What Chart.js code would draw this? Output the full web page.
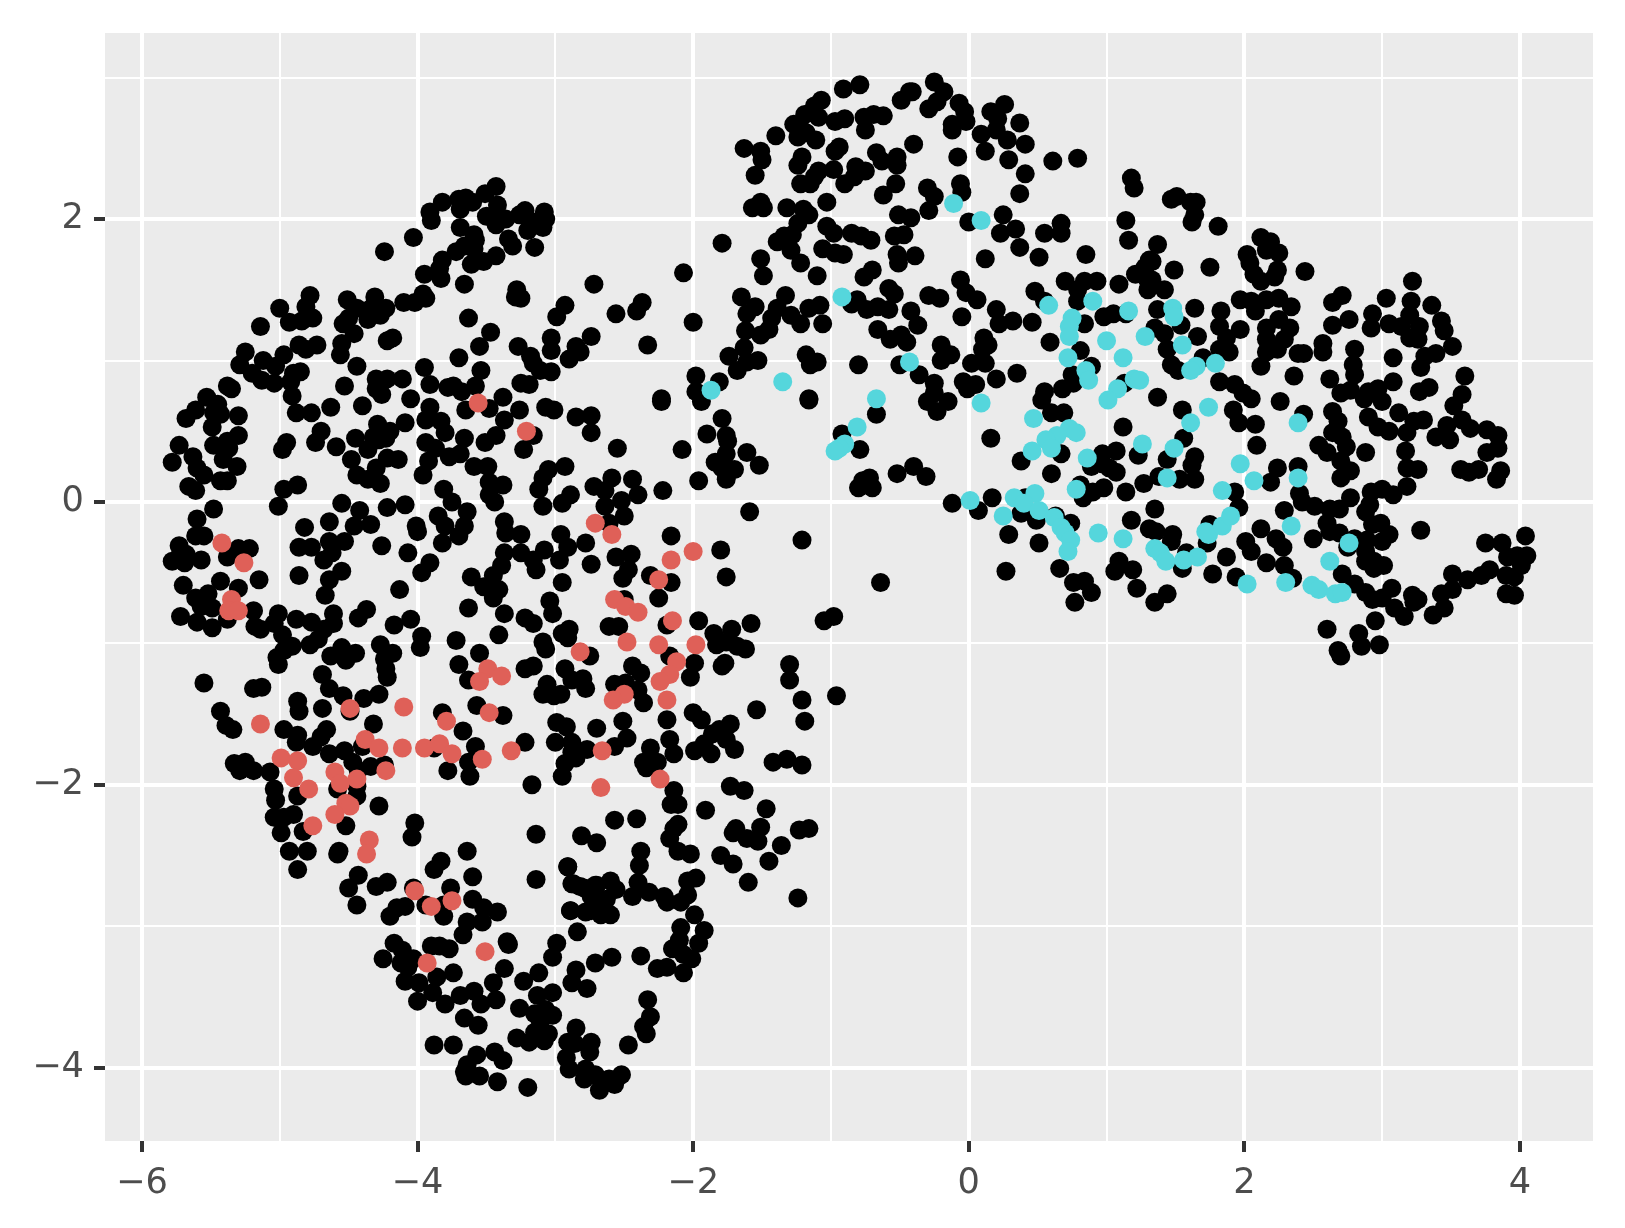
<!DOCTYPE html>
<html>
<head>
<meta charset="utf-8">
<script src="https://cdn.jsdelivr.net/npm/chart.js@4"></script>
<style>
  html, body { margin: 0; padding: 0; background: #fff; }
  canvas { display: block; }
</style>
</head>
<body>
<canvas id="chart" width="1625" height="1228"></canvas>
<script>
// values, [x, y]
const blackPoints = [
[-3.43,2.23],[-3.51,2.18],[-3.65,2.15],[-3.70,2.14],[-3.60,2.12],[-3.82,2.12],[-3.91,2.05],[-3.42,2.10],[-3.69,2.07],[-3.90,1.99],[-3.50,2.02],[-3.42,2.02],[-3.43,1.96],[-3.36,2.00],[-3.26,2.03],[-3.22,2.06],[-3.08,2.05],[-3.07,2.00],[-3.20,1.92],[-3.09,1.94],[-3.16,1.98],[-3.69,1.94],[-3.59,1.89],[-3.58,1.85],[-3.59,1.79],[-3.66,1.81],[-3.72,1.77],[-3.82,1.71],[-3.84,1.65],[-3.34,1.86],[-3.31,1.81],[-3.15,1.80],[-4.03,1.87],[-4.24,1.77],[-3.43,1.74],[-3.52,1.70],[-3.61,1.68],[-3.95,1.61],[-3.83,1.58],[-3.66,1.54],[-3.28,1.50],[-3.29,1.45],[-3.25,1.44],[-2.72,1.54],[-3.96,1.47],[-3.94,1.44],[-4.02,1.41],[-4.10,1.41],[-2.93,1.39],[-2.99,1.31],[-4.31,1.45],[-4.51,1.43],[-3.63,1.30],[-3.47,1.20],[-3.55,1.10],[-2.74,1.17],[-3.03,1.16],[-3.27,1.10],[-2.85,1.10],[-3.03,1.07],[-2.82,1.06],[-2.90,1.01],[-3.18,1.03],[-3.16,0.98],
[-4.78,1.46],[-4.81,1.38],[-5.00,1.37],[-4.76,1.30],[-4.84,1.28],[-4.93,1.27],[-5.14,1.24],[-4.23,1.37],[-4.27,1.32],[-4.36,1.29],[-4.44,1.37],[-4.50,1.30],[-4.54,1.26],[-4.46,1.19],[-4.55,1.12],[-4.56,1.04],[-4.35,1.36],[-4.18,1.16],[-4.22,1.14],[-4.86,1.11],[-4.73,1.11],[-4.81,1.08],[-5.25,1.06],[-4.97,1.04],[-5.12,1.00],[-5.29,0.97],[-3.70,1.02],[-4.44,0.96],[-3.95,0.95],[-3.54,0.93],[-3.03,0.92],[-3.11,0.93],[-4.85,0.92],[-4.90,0.91],[-5.03,0.96],[-5.20,0.91],[-5.13,0.86],[-5.04,0.84],[-4.92,0.85],[-4.30,0.87],[-4.22,0.87],[-4.11,0.87],[-4.53,0.82],[-4.30,0.80],[-4.26,0.76],[-3.91,0.83],[-3.78,0.81],[-3.74,0.82],[-3.68,0.78],[-3.58,0.82],[-3.25,0.84],[-3.19,0.83],[-4.91,0.75],[-5.38,0.82],[-5.35,0.80],[-5.53,0.74],[-5.45,0.69],[-5.61,0.65],[-5.68,0.59],[-5.48,0.63],[-5.43,0.62],[-5.30,0.61],[-5.49,0.53],[-4.05,0.73],[-4.63,0.67],[-4.88,0.63],[-4.77,0.63],[-4.40,0.68],[-3.65,0.65],[-3.48,0.66],[-3.38,0.74],[-3.26,0.65],[-3.37,0.58],[-3.07,0.67],[-3.01,0.65],[-2.85,0.60],[-2.74,0.61],[-2.74,0.49],[-3.91,0.67],[-3.94,0.58],[-3.83,0.57],[-3.80,0.49],[-4.09,0.56],[-4.29,0.55],[-4.20,0.50],[-4.32,0.46],[-4.23,0.45],[-4.45,0.45],[-4.70,0.50],[-4.74,0.42],[-4.95,0.42],[-4.98,0.37],[-4.59,0.39],[-3.66,0.45],[-3.43,0.47],[-3.51,0.42],[-3.16,0.47],[-3.23,0.37],[-5.73,0.40],[-5.30,0.47],[-5.38,0.43],[-5.48,0.40],[-5.37,0.38],[-3.94,0.42],[-3.87,0.38],[-4.36,0.37],[-4.28,0.44],[-4.48,0.30],[-3.69,0.34],[-3.77,0.32],[-3.59,0.25],[-3.49,0.25],[-3.92,0.29],[-4.22,0.31],[-4.14,0.30],[-4.30,0.24],[-5.41,0.30],[-5.31,0.25],[-5.63,0.32],[-5.78,0.28],[-5.60,0.24],[-5.55,0.19],[-3.96,0.19],[-4.44,0.19],[-4.36,0.16],[-4.27,0.13],[-3.48,0.14],[-3.38,0.12],[-3.48,0.05],[-3.44,0.00],[-3.05,0.23],[-2.93,0.25],[-3.09,0.17],[-3.12,0.09],[-3.81,0.09],[-3.75,0.00],[-2.72,0.11],[-2.89,0.05],[-2.95,-0.01],[-3.09,-0.03],[-4.87,0.12],[-4.97,0.09],[-5.43,0.15],[-5.38,0.15],[-5.66,0.11],[-5.61,0.08],[-5.01,-0.03],[-4.55,-0.01],[-4.22,-0.04],[-4.09,-0.02],[-4.42,-0.06],[-5.48,-0.05],[-5.60,-0.12],[-3.64,-0.07],[-3.85,-0.10],[-3.80,-0.17],[-3.66,-0.17],[-3.37,-0.14],[-3.36,-0.22],[-3.25,-0.23],[-2.96,-0.23],[-4.64,-0.14],[-4.34,-0.16],[-4.46,-0.17],[-4.82,-0.18],[-4.01,-0.17],[-4.00,-0.21],[-3.70,-0.24],[-5.55,-0.24],[-5.61,-0.24],
[-5.73,-0.31],[-4.86,-0.32],[-4.77,-0.32],[-4.64,-0.28],[-4.53,-0.28],[-3.82,-0.29],[-4.26,-0.31],[-5.30,-0.33],[-5.22,-0.33],[-5.38,-0.39],[-5.72,-0.37],[-5.68,-0.37],[-5.78,-0.42],[-5.69,-0.43],[-5.57,-0.41],[-4.07,-0.36],[-4.62,-0.36],[-4.68,-0.41],[-3.37,-0.36],[-3.25,-0.36],[-3.08,-0.34],[-2.91,-0.32],[-2.78,-0.29],[-3.16,-0.41],[-3.14,-0.48],[-2.97,-0.41],[-2.74,-0.44],[-3.39,-0.45],[-3.45,-0.52],[-3.91,-0.43],[-3.97,-0.50],[-4.55,-0.49],[-4.64,-0.55],[-4.86,-0.52],[-3.61,-0.53],[-5.43,-0.56],[-5.15,-0.55],[-5.70,-0.59],[-5.30,-0.61],[-3.52,-0.60],[-3.41,-0.62],[-2.95,-0.57],[-3.45,-0.68],[-4.13,-0.62],[-4.67,-0.66],[-5.52,-0.65],[-5.61,-0.68],[-5.57,-0.74],[-5.49,-0.75],[-3.04,-0.70],[-3.02,-0.79],[-3.63,-0.75],[-5.19,-0.77],[-3.37,-0.79],[-4.61,-0.79],[-4.37,-0.76],[-4.43,-0.82],[-5.72,-0.81],[-5.60,-0.85],[-5.49,-0.89],[-5.38,-0.83],[-5.01,-0.79],[-4.88,-0.83],[-5.04,-0.86],[-4.77,-0.85],[-4.61,-0.86],[-4.68,-0.90],[-4.05,-0.83],[-4.17,-0.87],[-5.18,-0.88],[-5.14,-0.90],[-3.22,-0.82],[-3.16,-0.86],[-3.97,-0.95],[-3.41,-0.94],[-2.90,-0.90],[-2.95,-0.93],[-2.91,-0.96],[-4.98,-0.94],[-4.72,-0.97],[-3.09,-0.99],[-3.07,-1.04],[-3.72,-0.98],[-3.98,-1.03],[-4.27,-1.01],[-4.18,-1.07],[-4.55,-1.03],[-4.45,-1.07],[-4.52,-1.12],[-4.63,-1.09],[-4.91,-1.02],[-4.97,-1.05],[-4.78,-1.01],[-5.02,-1.10],[-5.01,-1.15],[-3.55,-1.07],[-3.70,-1.15],[-4.24,-1.11],[-4.23,-1.18],[-4.22,-1.24],[-2.75,-1.09],[-3.16,-1.16],[-3.22,-1.18],[-2.93,-1.18],[-2.80,-1.25],[-2.88,-1.26],[-2.78,-1.32],[-4.69,-1.22],[-5.55,-1.28],[-5.13,-1.31],[-5.19,-1.32],[-3.63,-1.26],[-3.06,-1.29],[-3.09,-1.36],[-3.01,-1.37],[-2.96,-1.36],[-4.64,-1.32],[-4.54,-1.37],[-4.39,-1.39],[-4.28,-1.36],[-4.87,-1.41],[-4.86,-1.48],[-4.69,-1.46],[-4.49,-1.48],[-3.57,-1.44],[-3.38,-1.51],[-3.82,-1.49],[-2.99,-1.56],[-2.92,-1.59],[-5.43,-1.48],[-5.39,-1.58],[-5.34,-1.61],[-4.32,-1.57],[-2.70,-1.60],[-4.66,-1.61],[-4.70,-1.66],[-4.97,-1.61],[-4.87,-1.65],[-4.88,-1.70],[-3.67,-1.62],[-4.76,-1.73],[-3.22,-1.70],[-3.00,-1.70],[-2.88,-1.70],[-2.88,-1.77],[-2.77,-1.75],[-4.64,-1.78],[-4.53,-1.76],[-4.40,-1.73],[-3.58,-1.73],[-3.88,-1.74],[-4.47,-1.84],[-2.93,-1.85],[-2.85,-1.81],[-5.33,-1.85],[-5.25,-1.84],[-5.29,-1.90],[-5.19,-1.90],[-5.07,-1.91],[-4.24,-1.86],[-4.34,-1.87],[-4.43,-1.90],[-3.63,-1.84],[-3.78,-1.90],[-2.95,-1.94],[-3.62,-1.94],[-3.17,-2.00],[-5.04,-2.03],[-4.58,-2.03],[-4.44,-2.01],[-5.03,-2.11],[-4.87,-2.08],[-4.44,-2.08],[-4.28,-2.15],[-4.90,-2.21],[-5.04,-2.23],[-4.97,-2.23],[-4.52,-2.29],[-4.02,-2.27],[-4.04,-2.37],[-4.99,-2.34],[-4.83,-2.33],[-3.14,-2.35],[-2.81,-2.36],[-2.70,-2.41],[-4.93,-2.47],[-4.80,-2.47],[-4.57,-2.47],[-4.58,-2.49],[-3.64,-2.47],[-3.83,-2.54],[-3.88,-2.60],[-4.87,-2.60],[-2.91,-2.58],[-3.60,-2.65],[-3.14,-2.67],[-4.43,-2.64],[-4.22,-2.69],[-4.30,-2.72],[-4.50,-2.73],[-2.88,-2.70],[-2.82,-2.72],[-2.70,-2.71],[-3.76,-2.73],[-4.03,-2.73],[-4.44,-2.85],[-3.60,-2.81],[-4.09,-2.86],[-4.15,-2.87],[-3.81,-2.85],[-3.94,-2.85],[-3.52,-2.87],[-3.42,-2.90],[-2.89,-2.89],[-2.74,-2.79],[-2.74,-2.89],[-4.20,-2.93],[-3.81,-2.93],
[-3.64,-2.97],[-3.67,-3.06],[-3.53,-2.97],[-2.84,-3.04],[-2.99,-3.12],[-4.17,-3.12],[-4.11,-3.17],[-3.84,-3.14],[-3.90,-3.14],[-3.77,-3.16],[-3.35,-3.11],[-3.34,-3.13],[-3.02,-3.22],[-4.25,-3.23],[-4.03,-3.23],[-4.12,-3.26],[-4.07,-3.29],[-3.37,-3.30],[-3.74,-3.33],[-3.86,-3.36],[-3.12,-3.33],[-2.85,-3.31],[-2.71,-3.26],[-3.23,-3.39],[-4.09,-3.39],[-3.99,-3.40],[-3.45,-3.40],[-2.88,-3.40],[-2.77,-3.44],[-3.59,-3.46],[-3.89,-3.47],[-3.69,-3.49],[-3.02,-3.47],[-3.13,-3.49],[-4.00,-3.53],[-3.80,-3.55],[-3.54,-3.55],[-3.43,-3.52],[-3.26,-3.58],[-3.15,-3.62],[-3.07,-3.59],[-3.02,-3.63],[-3.66,-3.65],[-3.56,-3.70],[-2.85,-3.72],[-3.11,-3.67],[-3.15,-3.75],[-3.05,-3.76],[-3.28,-3.79],[-3.19,-3.82],[-3.08,-3.81],[-3.88,-3.84],[-3.74,-3.84],[-2.91,-3.82],[-2.86,-3.83],[-3.57,-3.91],[-3.44,-3.89],[-3.38,-3.95],[-2.92,-3.93],[-3.66,-4.03],[-3.64,-3.98],[-3.65,-4.06],[-3.55,-4.06],[-2.90,-4.01],[-3.42,-4.10],[-3.20,-4.14],[-2.74,-3.82],[-2.75,-3.89],[-2.47,-3.84],[-2.59,-3.22],[-2.38,-3.21],[-2.33,-3.52],[-2.31,-3.64],[-2.36,-3.71],[-2.34,-3.76],[-2.78,-4.01],[-2.79,-4.08],[-2.71,-4.05],[-2.61,-4.08],[-2.52,-4.05],[-2.57,-4.12],[-2.68,-4.16],[-1.99,-2.92],[-2.09,-3.01],[-1.92,-3.03],[-1.96,-3.12],[-2.10,-3.10],[-2.15,-3.16],[-2.01,-3.23],[-2.07,-3.20],[-2.07,-3.33],[-2.19,-3.29],[-2.26,-3.30],[-2.38,-2.47],[-2.39,-2.57],[-2.40,-2.69],[-2.32,-2.76],[-2.21,-2.79],[-2.44,-2.79],[-2.19,-2.83],[-2.09,-2.83],[-2.04,-2.78],[-2.04,-2.68],[-1.98,-2.66],[-2.11,-2.47],[-2.02,-2.49],[-2.91,-2.58],[-2.87,-2.70],[-2.79,-2.73],[-2.71,-2.71],[-2.60,-2.68],[-2.56,-2.74],[-2.71,-2.79],[-2.63,-2.81],[-2.89,-2.89],[-2.78,-2.90],[-2.67,-2.92],[-2.60,-2.92],[-2.66,-2.86],[-1.80,-2.50],[-1.71,-2.56],[-1.60,-2.69],[-1.45,-2.54],[-1.24,-2.80],
[-2.23,0.71],[-1.94,0.71],[-1.16,0.72],[-1.79,0.59],[-1.90,0.48],[-1.76,0.47],[-2.55,0.38],[-2.08,0.37],[-1.61,0.35],[-1.75,0.43],[-1.76,0.34],[-1.84,0.28],[-1.52,0.26],[-1.70,0.23],[-1.79,0.24],[-1.76,0.16],[-1.96,0.15],[-2.22,0.08],[-2.59,0.17],[-2.44,0.16],[-2.40,0.05],[-2.64,0.08],[-2.52,0.01],[-2.64,-0.03],[-2.50,-0.10],[-1.59,-0.07],[-0.92,0.48],[-0.67,0.62],[-0.79,0.37],[-0.23,0.64],[-0.15,0.71],[-0.30,0.71],[-0.52,0.20],[-0.40,0.25],[-0.31,0.18],[-0.72,0.17],[-0.77,0.15],[-0.80,0.10],[-0.70,0.10],[-0.12,-0.01],[0.07,-0.06],[-2.61,-0.15],[-2.16,-0.24],[-1.21,-0.27],[-1.80,-0.34],[-2.45,-0.37],[-2.56,-0.39],[-2.47,-0.48],[-2.51,-0.54],[-2.31,-0.52],[-2.16,-0.57],[-1.76,-0.53],[-0.64,-0.57],[-2.25,-0.68],[-2.50,-0.69],[-1.05,-0.84],[-0.98,-0.81],[-1.96,-0.84],[-2.19,-0.87],[-1.72,-0.90],[-1.85,-0.93],[-1.58,-0.86],[-2.54,-0.88],[-2.61,-0.88],[-1.83,-1.01],[-1.76,-0.99],[-1.68,-1.02],[-1.62,-1.04],[-2.17,-1.09],[-1.99,-1.14],[-1.77,-1.14],[-1.79,-1.16],[-1.30,-1.15],[-1.30,-1.26],[-2.02,-1.24],[-2.44,-1.16],[-2.38,-1.21],[-2.57,-1.29],[-2.49,-1.28],[-2.40,-1.33],[-2.36,-1.42],[-1.21,-1.40],[-0.96,-1.37],[-1.54,-1.47],[-1.19,-1.55],[-2.19,-1.54],[-2.00,-1.49],[-1.94,-1.54],[-2.51,-1.55],[-1.73,-1.57],[-1.81,-1.61],[-1.86,-1.64],[-1.76,-1.68],[-1.92,-1.71],[-1.70,-1.75],[-1.99,-1.76],[-1.87,-1.78],[-2.48,-1.67],[-2.57,-1.73],[-2.17,-1.68],[-2.14,-1.78],[-2.31,-1.74],[-2.26,-1.84],[-2.36,-1.84],[-2.34,-1.88],[-1.42,-1.84],[-1.32,-1.82],[-1.21,-1.86],[-1.73,-2.01],[-1.63,-2.04],[-2.14,-2.04],[-2.11,-2.14],[-2.16,-2.14],[-1.91,-2.18],[-1.47,-2.17],[-2.11,-2.28],[-2.14,-2.31],[-2.41,-2.24],[-2.57,-2.25],[-2.17,-2.38],[-1.69,-2.31],[-1.51,-2.30],[-1.71,-2.34],[-1.16,-2.31],[-1.23,-2.32],[-1.61,-2.38],[-1.53,-2.40],[-1.36,-2.43],
[-0.79,2.95],[-0.91,2.92],[-1.07,2.84],[-1.12,2.80],[-1.19,2.74],[-1.09,2.72],[-1.27,2.67],[-1.23,2.67],[-1.18,2.61],[-1.24,2.58],[-1.11,2.56],[-0.90,2.71],[-0.97,2.69],[-0.76,2.72],[-0.69,2.74],[-0.62,2.73],[-0.75,2.63],[-1.40,2.59],[-1.63,2.50],[-1.51,2.48],[-1.50,2.42],[-1.55,2.31],[-1.21,2.44],[-1.24,2.38],[-0.94,2.51],[-0.97,2.48],[-0.67,2.47],[-0.63,2.41],[-0.52,2.44],[-0.52,2.38],[-0.40,2.53],[-0.98,2.35],[-1.09,2.34],[-1.12,2.30],[-1.15,2.25],[-1.22,2.25],[-0.82,2.37],[-0.75,2.34],[-0.83,2.30],[-0.90,2.25],[-0.53,2.25],[-0.62,2.17],[-1.03,2.12],[-1.51,2.12],[-1.57,2.08],[-1.49,2.08],[-1.32,2.08],[-1.20,2.07],[-1.16,2.03],[-1.24,1.97],[-1.28,1.89],[-1.34,1.88],[-1.39,1.84],[-1.29,1.78],[-1.22,1.69],[-1.79,1.83],[-1.51,1.72],[-1.49,1.60],[-1.10,1.60],[-1.03,1.95],[-0.98,1.90],[-0.85,1.90],[-0.78,1.88],[-0.71,1.85],[-1.06,1.79],[-0.97,1.76],[-0.91,1.75],[-0.54,1.88],[-0.47,1.89],[-0.52,1.75],[-0.51,1.69],[-0.39,1.74],[-0.70,1.64],[-0.76,1.59],[-2.07,1.62],[-1.65,1.45],[-1.55,1.38],[-1.61,1.33],[-1.62,1.21],[-1.51,1.18],[-1.45,1.22],[-1.43,1.30],[-1.39,1.37],[-1.33,1.46],[-1.29,1.32],[-1.22,1.26],[-1.16,1.37],[-1.08,1.39],[-1.06,1.26],[-0.58,1.51],[-0.54,1.47],[-0.81,1.43],[-0.85,1.40],[-0.74,1.36],[-0.66,1.38],[-0.58,1.36],[-0.42,1.35],[-0.37,1.25],[-0.66,1.22],[-0.57,1.15],[-0.49,1.18],[-2.00,1.27],[-1.63,1.09],[-1.74,1.03],[-1.53,1.00],[-1.68,0.93],[-1.61,0.99],[-1.18,1.04],[-1.10,0.99],[-1.15,0.97],[-0.80,0.97],[-0.50,0.97],[-1.98,0.89],[-1.81,0.85],[-1.98,0.78],[-1.16,0.73],
[-0.25,2.97],[-0.43,2.90],[-0.41,2.90],[-0.49,2.84],[-0.18,2.90],[-0.23,2.83],[-0.29,2.78],[-0.07,2.82],[-0.03,2.76],[-0.02,2.69],[-0.12,2.67],[-0.12,2.63],[0.26,2.81],[0.16,2.76],[0.21,2.71],[0.09,2.60],[0.20,2.63],[0.28,2.56],[0.37,2.68],[0.41,2.53],[0.12,2.48],[-0.08,2.44],[0.29,2.42],[0.61,2.41],[0.79,2.43],[0.41,2.32],[1.18,2.29],[1.20,2.22],[0.37,2.18],[1.47,2.14],[1.51,2.16],[-0.30,2.22],[-0.25,2.16],[-0.29,2.06],[-0.06,2.25],[-0.05,2.19],[-0.51,2.03],[-0.42,2.01],[0.00,1.98],[0.25,2.03],[0.23,1.90],[0.34,1.93],[0.55,1.90],[0.67,1.97],[0.67,1.90],[1.14,1.99],[1.16,1.85],[0.37,1.80],[0.51,1.73],[0.12,1.72],[0.85,1.75],[1.31,1.71],[1.28,1.66],[1.21,1.61],[-0.06,1.57],[-0.02,1.48],[0.06,1.43],[-0.29,1.46],[-0.21,1.44],[0.70,1.56],[0.84,1.56],[0.93,1.56],[0.79,1.50],[0.79,1.42],[1.09,1.54],[1.30,1.57],[1.30,1.50],[0.48,1.49],[0.55,1.42],[0.20,1.36],[-0.05,1.31],[0.32,1.28],[0.22,1.26],[0.46,1.27],[0.98,1.31],[1.05,1.33],[0.84,1.26],[1.14,1.33],
[-0.45,1.13],[-0.20,1.11],[-0.13,1.04],[-0.20,1.00],[0.11,1.16],[0.14,1.11],[0.10,1.08],[-0.25,0.84],[-0.36,0.90],[0.02,0.98],[0.12,0.98],[-0.04,0.85],[0.05,0.83],[0.20,0.87],[-0.01,0.80],[0.35,0.91],[0.59,1.13],[0.81,1.07],[0.89,0.96],[0.75,0.90],[0.76,0.84],[0.68,0.80],[0.55,0.78],[0.53,0.72],[-0.25,0.77],[0.16,0.45],[0.60,0.63],[0.69,0.63],[1.12,0.53],[1.13,0.84],[1.23,0.33],[0.67,0.34],[0.38,0.29],[0.60,0.20],[0.97,0.34],[1.07,0.36],[0.89,0.25],[0.97,0.27],[1.02,0.24],[1.07,0.21],[0.81,0.12],[0.98,0.10],[0.90,0.07],[0.83,0.03],[1.14,0.07],[1.27,0.13],[0.17,0.03],[0.41,0.03],[0.38,-0.08],[0.49,-0.13],[0.74,-0.15],[0.63,-0.10],[0.29,-0.23],[0.51,-0.29],[1.18,-0.13],[1.31,-0.19],[0.27,-0.49],[0.66,-0.47],[1.06,-0.49],[1.09,-0.42],[1.19,-0.48],[1.22,-0.61],[0.84,-0.56],[0.76,-0.57],[0.89,-0.64],[0.77,-0.71],
[1.61,2.12],[1.65,2.12],[1.64,2.03],[1.62,1.98],[1.81,1.95],[1.37,1.82],[1.33,1.70],[1.49,1.64],[1.75,1.66],[1.33,1.57],[1.42,1.50],[2.12,1.87],[2.19,1.84],[2.25,1.76],[2.02,1.75],[2.04,1.69],[2.16,1.78],[2.24,1.64],[2.07,1.61],[2.22,1.59],[2.12,1.56],[2.44,1.63],[1.97,1.43],[2.05,1.42],[2.16,1.43],[2.25,1.44],[2.34,1.38],[2.08,1.35],[1.37,1.36],[1.64,1.37],[1.83,1.35],[1.82,1.24],[1.87,1.16],[1.54,1.25],[1.42,1.19],[1.35,1.23],[1.44,1.08],[1.66,1.17],[1.89,1.06],[1.82,1.08],[1.97,1.22],[2.16,1.23],[2.16,1.15],[2.16,1.06],[2.25,1.29],[2.33,1.23],[2.29,1.15],[2.24,1.08],[2.39,1.05],[2.43,1.05],[2.12,0.96],[1.47,0.97],[1.52,0.93],[1.70,1.02],[1.82,0.85],[1.93,0.83],[1.99,0.77],[2.05,0.73],[2.36,0.89],[2.62,0.87],[2.57,1.12],[2.57,1.06],[2.64,1.25],[2.76,1.29],[2.64,1.41],[2.71,1.46],[2.93,1.33],[3.03,1.44],[3.22,1.56],[3.36,1.39],[3.21,1.42],[3.20,1.32],[2.92,1.23],[3.05,1.26],[3.14,1.24],[3.27,1.24],[3.20,1.16],[3.26,1.15],[3.43,1.28],[3.45,1.21],[3.51,1.10],[3.39,1.05],[3.31,1.03],[3.28,0.95],[3.08,1.02],[2.80,1.08],[2.79,0.97],[2.80,0.90],[3.08,0.85],[2.97,0.80],[2.77,0.79],[2.70,0.77],[2.87,0.73],[3.00,0.71],[2.90,0.78],[3.60,0.89],[3.58,0.76],[3.52,0.68],[3.34,0.81],[3.27,0.78],[2.26,0.71],[1.37,0.74],[1.55,0.65],[1.92,0.65],[1.96,0.56],[2.08,0.55],[2.43,0.62],[2.64,0.64],[2.68,0.57],[2.64,0.49],[2.71,0.46],[2.74,0.39],[2.90,0.60],[2.97,0.53],[3.05,0.50],[3.12,0.63],[3.18,0.49],[3.30,0.58],[3.23,0.57],[3.17,0.36],[3.47,0.54],[3.39,0.46],[3.49,0.44],[3.58,0.58],[3.64,0.52],[3.76,0.51],[3.84,0.47],[3.84,0.38],[3.76,0.35],[1.56,0.45],[2.09,0.40],[2.54,0.40],[2.60,0.35],[2.88,0.35],[2.70,0.29],[2.77,0.22],[2.70,0.17],[3.18,0.24],[3.26,0.23],[3.57,0.23],[3.63,0.21],[3.70,0.23],[3.86,0.22],[3.83,0.16],[1.64,0.32],[1.62,0.26],[1.44,0.30],[1.64,0.16],[1.53,0.16],[1.38,0.18],[2.24,0.24],[2.19,0.14],[2.39,0.25],[3.18,0.11],[3.00,0.09],[2.92,0.07],[3.08,0.05],[2.40,0.06],[2.42,0.00],[2.51,-0.03],[2.62,-0.05],[2.69,-0.05],[2.77,0.03],[2.91,-0.02],[2.88,-0.07],[1.93,0.07],[1.96,-0.04],[2.29,-0.06],[1.35,-0.05],[1.75,-0.16],[1.73,-0.29],[1.48,-0.23],[1.47,-0.28],[1.36,-0.21],[2.12,-0.19],[2.01,-0.28],[2.05,-0.35],[2.23,-0.26],[2.28,-0.32],[2.60,-0.15],[2.62,-0.21],[2.69,-0.22],[2.93,-0.16],[2.99,-0.15],[3.05,-0.23],[3.00,-0.28],[2.89,-0.27],[2.80,-0.26],[2.75,-0.32],[2.50,-0.26],[3.28,-0.20],[1.58,-0.36],[1.87,-0.39],[2.16,-0.43],[2.29,-0.45],[1.55,-0.47],[1.77,-0.51],[1.94,-0.53],[2.35,-0.54],[2.88,-0.35],[2.94,-0.42],[3.01,-0.45],[2.94,-0.47],[2.88,-0.42],[2.71,-0.51],[2.80,-0.58],[2.88,-0.64],[2.93,-0.69],[3.00,-0.68],[3.07,-0.61],[3.09,-0.75],[3.16,-0.81],[3.22,-0.66],[3.26,-0.69],[3.23,-0.71],[3.43,-0.65],[3.51,-0.51],[3.51,-0.62],[3.45,-0.75],[3.37,-0.80],[3.62,-0.55],[3.72,-0.52],[3.78,-0.48],[3.75,-0.29],[3.87,-0.29],[4.04,-0.24],[3.91,-0.39],[3.98,-0.38],[4.05,-0.38],[4.01,-0.45],[3.90,-0.52],[3.96,-0.53],[3.90,-0.65],[3.96,-0.66],[1.44,-0.65],[1.35,-0.71],[2.95,-0.84],[2.60,-0.90],[2.83,-0.93],[2.85,-1.02],[2.98,-1.01],[2.68,-1.05],[2.70,-1.09],
[-2.37,1.41],[-2.41,1.35],[-2.56,1.33],[-2.33,1.11],[-2.23,0.73]
];

const redPoints = [
[-3.56,0.70],[-3.21,0.50],[-5.42,-0.29],[-5.26,-0.43],[-5.35,-0.69],[-5.37,-0.77],[-5.30,-0.77],[-5.14,-1.57],[-4.49,-1.46],[-4.10,-1.45],[-3.79,-1.55],[-3.48,-1.49],[-4.38,-1.68],[-4.28,-1.74],[-4.11,-1.74],[-3.95,-1.74],[-3.84,-1.71],[-3.75,-1.78],[-3.53,-1.82],[-3.32,-1.76],[-3.49,-1.18],[-3.39,-1.23],[-3.55,-1.27],[-2.82,-1.06],[-4.99,-1.81],[-4.87,-1.83],[-4.90,-1.95],[-4.79,-2.03],[-4.60,-1.91],[-4.56,-1.99],[-4.44,-1.96],[-4.23,-1.90],[-4.52,-2.13],[-4.49,-2.15],[-4.60,-2.21],[-4.76,-2.29],[-4.35,-2.39],[-4.37,-2.49],[-4.02,-2.75],[-3.90,-2.86],[-3.75,-2.82],[-3.93,-3.26],[-3.51,-3.18],[-2.59,-0.23],[-2.71,-0.15],[-2.00,-0.35],[-2.16,-0.41],[-2.25,-0.55],[-2.57,-0.69],[-2.49,-0.74],[-2.40,-0.78],[-2.15,-0.84],[-2.48,-0.99],[-2.25,-1.01],[-1.98,-1.01],[-2.12,-1.13],[-2.17,-1.22],[-2.24,-1.27],[-2.50,-1.36],[-2.58,-1.40],[-2.19,-1.40],[-2.66,-1.76],[-2.24,-1.96],[-2.67,-2.02]
];

const cyanPoints = [
[-0.11,2.11],[0.09,1.99],[-0.92,1.45],[-0.43,0.99],[-1.35,0.85],[-1.87,0.79],[-0.67,0.73],[-0.81,0.53],[-0.90,0.41],[-0.94,0.38],[-0.97,0.36],[0.09,0.70],[0.58,1.39],[0.90,1.42],[1.16,1.35],[0.75,1.30],[0.73,1.24],[0.73,1.17],[1.00,1.14],[1.28,1.17],[0.72,1.02],[1.12,1.02],[0.85,0.93],[0.87,0.86],[1.20,0.87],[1.24,0.86],[1.08,0.80],[1.01,0.72],[0.47,0.59],[0.73,0.52],[0.78,0.49],[0.64,0.47],[0.56,0.44],[0.60,0.38],[0.46,0.36],[1.26,0.41],[1.49,0.38],[1.48,1.37],[1.49,1.31],[1.55,1.11],[0.86,0.31],
[1.65,0.96],[1.61,0.93],[1.79,0.98],[1.74,0.67],[1.61,0.56],[1.44,0.17],[0.78,0.09],[1.97,0.27],[2.07,0.15],[1.84,0.08],[2.39,0.56],[2.39,0.17],[0.01,0.01],[0.33,0.03],[0.48,0.06],[0.40,-0.01],[0.51,-0.06],[0.62,-0.11],[0.25,-0.10],[0.67,-0.18],[0.70,-0.22],[0.74,-0.27],[0.72,-0.35],[0.94,-0.22],[1.12,-0.26],[1.35,-0.33],[1.39,-0.36],[1.43,-0.42],[1.56,-0.41],[1.66,-0.39],[1.72,-0.21],[1.74,-0.23],[1.84,-0.17],[1.90,-0.10],[2.34,-0.17],[2.02,-0.58],[2.30,-0.57],
[2.62,-0.42],[2.76,-0.29],[2.49,-0.59],[2.54,-0.62],[2.66,-0.65],[2.71,-0.64]
];

const xTicks = [-6, -5, -4, -3, -2, -1, 0, 1, 2, 3, 4];
const yTicks = [-4, -3, -2, -1, 0, 1, 2, 3];

const toXY = (pts) => pts.map(p => ({ x: p[0], y: p[1] }));

// gray panel behind the grid
const panelBg = {
    id: 'panelBg',
    beforeDraw: function (chart) {
        const a = chart.chartArea;
        chart.ctx.save();
        chart.ctx.fillStyle = '#EBEBEB';
        chart.ctx.fillRect(a.left, a.top, a.right - a.left, a.bottom - a.top);
        chart.ctx.restore();
    }
};

function axisOptions(min, max, tickList, fitSize, labelPad) {
    const isMajor = (v) => Math.abs(v) % 2 === 0;
    return {
        type: 'linear',
        min: min,
        max: max,
        afterBuildTicks: function (scale) {
            scale.ticks = tickList.map(v => ({ value: v }));
        },
        afterFit: fitSize,
        border: { display: false },
        grid: {
            color: '#FFFFFF',
            lineWidth: (ctx) => isMajor(ctx.tick.value) ? 4 : 2,
            drawTicks: true,
            tickLength: 11,
            tickColor: (ctx) => isMajor(ctx.tick.value) ? '#333333' : 'rgba(0,0,0,0)',
            tickWidth: (ctx) => isMajor(ctx.tick.value) ? 4 : 0
        },
        ticks: {
            autoSkip: false,
            maxRotation: 0,
            color: '#4D4D4D',
            padding: labelPad,
            font: { family: 'DejaVu Sans', size: 35.2 },
            callback: (v) => isMajor(v) ? String(v).replace('-', '\u2212') : ''
        }
    };
}

new Chart(document.getElementById('chart').getContext('2d'), {
    type: 'scatter',
    data: {
        datasets: [
            { label: 'c', data: toXY(cyanPoints), backgroundColor: '#55D6DC', order: 1 },
            { label: 'r', data: toXY(redPoints), backgroundColor: '#DF6058', order: 2 },
            { label: 'b', data: toXY(blackPoints), backgroundColor: '#000000', order: 3 }
        ]
    },
    options: {
        responsive: false,
        animation: false,
        layout: { padding: { top: 33, right: 32, left: 0, bottom: 0 } },
        elements: { point: { radius: 9.5, borderWidth: 0, hoverRadius: 9.5 } },
        plugins: { legend: { display: false }, tooltip: { enabled: false } },
        scales: {
            x: axisOptions(-6.268, 4.530, xTicks, (s) => { s.height = 87; }, 11),
            y: axisOptions(-4.519, 3.316, yTicks, (s) => { s.width = 105; }, 10)
        }
    },
    plugins: [panelBg]
});
</script>
</body>
</html>
